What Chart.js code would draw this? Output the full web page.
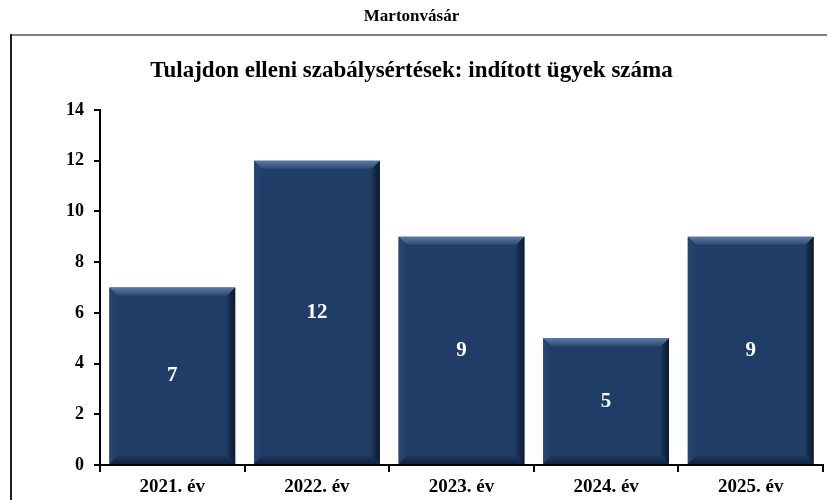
<!DOCTYPE html>
<html>
<head>
<meta charset="utf-8">
<script src="https://cdn.jsdelivr.net/npm/chart.js@4.4.1/dist/chart.umd.min.js"></script>
<style>
  html, body { margin: 0; padding: 0; background: #ffffff; }
  #wrap { position: relative; width: 828px; height: 500px; }
</style>
</head>
<body>
<div id="wrap"><canvas id="c" width="828" height="500"></canvas></div>
<script>
const chartTitle = "Martonvásár";
const chartSubtitle = "Tulajdon elleni szabálysértések: indított ügyek száma";
const categories = ["2021. év", "2022. év", "2023. év", "2024. év", "2025. év"];
const values = [7, 12, 9, 5, 9];
const yTicks = [0, 2, 4, 6, 8, 10, 12, 14];

const FONT = "'Liberation Serif', 'Times New Roman', serif";
const BAR = '#203d67';

const framePlugin = {
  id: 'frame',
  beforeDraw(chart) {
    const ctx = chart.ctx;
    ctx.save();
    ctx.fillStyle = '#ffffff';
    ctx.fillRect(0, 0, chart.width, chart.height);
    ctx.fillStyle = '#808080';
    ctx.fillRect(11, 34, chart.width - 12, 2);
    ctx.fillStyle = '#202020';
    ctx.fillRect(10, 34, 2, chart.height - 34);
    ctx.restore();
  }
};

const bevelPlugin = {
  id: 'bevel',
  afterDatasetsDraw(chart) {
    const ctx = chart.ctx;
    const meta = chart.getDatasetMeta(0);
    meta.data.forEach((bar, i) => {
      const p = bar.getProps(['x', 'y', 'base', 'width'], true);
      const l = p.x - p.width / 2, r = p.x + p.width / 2;
      const t = p.y, b = p.base;
      const s = 8;
      ctx.save();
      let g = ctx.createLinearGradient(0, t, 0, t + s);
      g.addColorStop(0, '#5d7aa3');
      g.addColorStop(1, '#2c4a76');
      ctx.fillStyle = g;
      ctx.beginPath();
      ctx.moveTo(l, t); ctx.lineTo(r, t); ctx.lineTo(r - s, t + s); ctx.lineTo(l + s, t + s); ctx.closePath();
      ctx.fill();
      g = ctx.createLinearGradient(l, 0, l + s, 0);
      g.addColorStop(0, '#2a4670');
      g.addColorStop(1, '#213f69');
      ctx.fillStyle = g;
      ctx.beginPath();
      ctx.moveTo(l, t); ctx.lineTo(l + s, t + s); ctx.lineTo(l + s, b - s); ctx.lineTo(l, b); ctx.closePath();
      ctx.fill();
      g = ctx.createLinearGradient(r - s, 0, r, 0);
      g.addColorStop(0, '#1b355a');
      g.addColorStop(1, '#0c1a2e');
      ctx.fillStyle = g;
      ctx.beginPath();
      ctx.moveTo(r, t); ctx.lineTo(r - s, t + s); ctx.lineTo(r - s, b - s); ctx.lineTo(r, b); ctx.closePath();
      ctx.fill();
      g = ctx.createLinearGradient(0, b - s, 0, b);
      g.addColorStop(0, '#1c365b');
      g.addColorStop(1, '#102440');
      ctx.fillStyle = g;
      ctx.beginPath();
      ctx.moveTo(l, b); ctx.lineTo(l + s, b - s); ctx.lineTo(r - s, b - s); ctx.lineTo(r, b); ctx.closePath();
      ctx.fill();
      ctx.fillStyle = '#ffffff';
      ctx.font = 'bold 21px ' + FONT;
      ctx.textAlign = 'center';
      ctx.textBaseline = 'middle';
      ctx.fillText(String(values[i]), p.x, (t + b) / 2);
      ctx.restore();
    });
  }
};

new Chart(document.getElementById('c'), {
  type: 'bar',
  data: {
    labels: categories,
    datasets: [{
      data: values,
      backgroundColor: BAR,
      borderWidth: 0,
      barPercentage: 0.87,
      categoryPercentage: 1.0
    }]
  },
  options: {
    responsive: false,
    animation: false,
    devicePixelRatio: 1,
    layout: { padding: { left: 0, right: 5, top: 0, bottom: 0 } },
    plugins: {
      legend: { display: false },
      tooltip: { enabled: false },
      title: {
        display: true,
        text: chartTitle,
        color: '#000000',
        font: { family: FONT, size: 17, weight: 'bold', lineHeight: 1.2 },
        padding: { top: 6, bottom: 31 }
      },
      subtitle: {
        display: true,
        text: chartSubtitle,
        color: '#000000',
        font: { family: FONT, size: 23, weight: 'bold', lineHeight: 1.2 },
        padding: { top: 0, bottom: 25 }
      }
    },
    scales: {
      x: {
        grid: { display: true, drawOnChartArea: false, drawTicks: true, tickLength: 7, color: '#000000', lineWidth: 2, offset: true },
        border: { display: true, color: '#000000', width: 2 },
        ticks: { color: '#000000', font: { family: FONT, size: 19, weight: 'bold' }, padding: 4, maxRotation: 0 },
        afterFit(scale) { scale.height = 35; }
      },
      y: {
        min: 0, max: 14,
        afterBuildTicks(scale) { scale.ticks = yTicks.map(v => ({ value: v })); },
        grid: { display: true, drawOnChartArea: false, drawTicks: true, tickLength: 6, color: '#000000', lineWidth: 2 },
        border: { display: true, color: '#000000', width: 2 },
        ticks: { color: '#000000', font: { family: FONT, size: 18, weight: 'bold' }, padding: 10 },
        afterFit(scale) { scale.width = 100; }
      }
    }
  },
  plugins: [framePlugin, bevelPlugin]
});
</script>
</body>
</html>
